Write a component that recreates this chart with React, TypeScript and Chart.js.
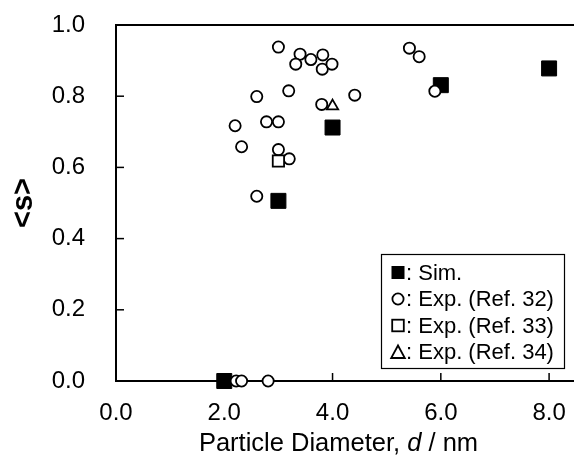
import React, { useEffect, useRef } from 'react';
import { Chart, registerables } from 'chart.js';

Chart.register(...registerables);

const FONT = "'Liberation Sans', Arial, sans-serif";

const simX = [2.0, 3.0, 4.0, 6.0, 8.0];
const simY = [0.0, 0.506, 0.712, 0.831, 0.878];

const ref32X = [3.0, 3.4, 3.32, 3.6, 3.82, 3.81, 3.99, 3.19, 2.6, 3.8, 4.41, 2.2, 2.78, 3.0, 2.32, 3.0, 3.2, 2.6, 5.42, 5.6, 5.89, 2.22, 2.32, 2.81];
const ref32Y = [0.938, 0.918, 0.89, 0.903, 0.916, 0.876, 0.89, 0.815, 0.799, 0.777, 0.803, 0.717, 0.728, 0.728, 0.658, 0.65, 0.624, 0.519, 0.935, 0.911, 0.814, 0.0, 0.0, 0.0];

const ref33X = [3.0];
const ref33Y = [0.618];

const ref34X = [4.0];
const ref34Y = [0.772];

const xTicks = [0, 2, 4, 6, 8];
const yTicks = [0, 0.2, 0.4, 0.6, 0.8, 1.0];

const legendLabels = [': Sim.', ': Exp. (Ref. 32)', ': Exp. (Ref. 33)', ': Exp. (Ref. 34)'];
const xTitleParts = ['Particle Diameter, ', 'd', ' / nm'];
const yTitle = '<s>';

const toPts = (xs: number[], ys: number[]) => xs.map((x, i) => ({ x, y: ys[i] }));

const noPadding = () => ({ left: 0, top: 0, right: 0, bottom: 0 });

const decorPlugin = {
  id: 'decor',
  beforeDatasetsDraw(chart: any) {
    const { ctx, chartArea, scales } = chart;
    ctx.save();
    ctx.strokeStyle = '#000';
    ctx.lineWidth = 2;
    ctx.beginPath();
    ctx.moveTo(chartArea.left - 1, chartArea.top);
    ctx.lineTo(chartArea.right, chartArea.top);
    ctx.stroke();
    ctx.lineWidth = 1.5;
    yTicks.forEach((v) => {
      if (v === 0 || v === 1) return;
      const y = scales.y.getPixelForValue(v);
      ctx.beginPath();
      ctx.moveTo(chartArea.left, y);
      ctx.lineTo(chartArea.left + 8, y);
      ctx.stroke();
    });
    xTicks.forEach((v) => {
      if (v === 0) return;
      const x = scales.x.getPixelForValue(v);
      ctx.beginPath();
      ctx.moveTo(x, chartArea.bottom);
      ctx.lineTo(x, chartArea.bottom - 8);
      ctx.stroke();
    });
    ctx.restore();
  },
  afterDraw(chart: any) {
    const { ctx } = chart;
    ctx.save();
    const size = 25.5;
    const fonts = [`${size}px ${FONT}`, `italic ${size}px ${FONT}`, `${size}px ${FONT}`];
    const widths = xTitleParts.map((t, i) => {
      ctx.font = fonts[i];
      return ctx.measureText(t).width;
    });
    const total = widths.reduce((a, b) => a + b, 0);
    let x = 338.5 - total / 2;
    ctx.fillStyle = '#000';
    ctx.textBaseline = 'alphabetic';
    ctx.textAlign = 'left';
    xTitleParts.forEach((t, i) => {
      ctx.font = fonts[i];
      ctx.fillText(t, x, 451);
      x += widths[i];
    });

    const bx = 381, by = 254, bw = 183, bh = 114;
    ctx.fillStyle = '#fff';
    ctx.fillRect(bx, by, bw, bh);
    ctx.strokeStyle = '#000';
    ctx.lineWidth = 1.2;
    ctx.strokeRect(bx + 0.5, by + 0.5, bw, bh);
    const rows = [272.5, 299, 325.5, 352];
    const mx = 398;
    ctx.lineWidth = 1.8;
    rows.forEach((ry, i) => {
      ctx.beginPath();
      if (i === 0) {
        ctx.fillStyle = '#000';
        ctx.fillRect(mx - 6.5, ry - 6.5, 13, 13);
      } else if (i === 1) {
        ctx.arc(mx, ry, 5.6, 0, Math.PI * 2);
        ctx.stroke();
      } else if (i === 2) {
        ctx.strokeRect(mx - 5.8, ry - 5.8, 11.6, 11.6);
      } else {
        ctx.moveTo(mx, ry - 6.5);
        ctx.lineTo(mx - 6.8, ry + 6);
        ctx.lineTo(mx + 6.8, ry + 6);
        ctx.closePath();
        ctx.stroke();
      }
      ctx.fillStyle = '#000';
      ctx.font = `22px ${FONT}`;
      ctx.textBaseline = 'middle';
      ctx.fillText(legendLabels[i], 406, ry + 1);
    });
    ctx.restore();
  },
};

export default function App() {
  const ref = useRef<HTMLCanvasElement>(null);
  useEffect(() => {
    const chart = new Chart(ref.current as HTMLCanvasElement, {
      type: 'scatter',
      data: {
        datasets: [
          {
            label: legendLabels[0],
            data: toPts(simX, simY),
            pointStyle: 'rect',
            pointRadius: 10.6,
            pointHoverRadius: 10.6,
            backgroundColor: '#000',
            borderColor: '#000',
            borderWidth: 1,
            order: 4,
            clip: false,
          } as any,
          {
            label: legendLabels[1],
            data: toPts(ref32X, ref32Y),
            pointStyle: 'circle',
            pointRadius: 5.6,
            pointHoverRadius: 5.6,
            backgroundColor: '#fff',
            borderColor: '#000',
            borderWidth: 1.8,
            order: 3,
            clip: false,
          },
          {
            label: legendLabels[2],
            data: toPts(ref33X, ref33Y),
            pointStyle: 'rect',
            pointRadius: 8,
            pointHoverRadius: 8,
            backgroundColor: '#fff',
            borderColor: '#000',
            borderWidth: 1.8,
            order: 2,
            clip: false,
          },
          {
            label: legendLabels[3],
            data: toPts(ref34X, ref34Y),
            pointStyle: 'triangle',
            pointRadius: 6.5,
            pointHoverRadius: 6.5,
            backgroundColor: '#fff',
            borderColor: '#000',
            borderWidth: 1.8,
            order: 1,
            clip: false,
          },
        ],
      },
      options: {
        animation: false,
        responsive: false,
        maintainAspectRatio: false,
        layout: { autoPadding: false, padding: { top: 25, right: 0, left: 0, bottom: 0 } },
        plugins: { legend: { display: false }, tooltip: { enabled: false } },
        scales: {
          x: {
            type: 'linear',
            min: 0,
            max: 8.46,
            afterBuildTicks: (s: any) => {
              s.ticks = xTicks.map((v) => ({ value: v }));
            },
            afterFit: (s: any) => {
              s.height = 76;
              s.paddingRight = 0;
              s.paddingLeft = 0;
              s.getPadding = noPadding;
            },
            grid: { display: true, drawOnChartArea: false, drawTicks: true, tickLength: 18, color: 'rgba(0,0,0,0)' },
            border: { display: true, color: '#000', width: 2 },
            ticks: {
              padding: 0,
              color: '#000',
              font: { family: FONT, size: 24 },
              maxRotation: 0,
              autoSkip: false,
              callback: (v: any) => Number(v).toFixed(1),
            },
          },
          y: {
            type: 'linear',
            min: 0,
            max: 1,
            afterBuildTicks: (s: any) => {
              s.ticks = yTicks.map((v) => ({ value: v }));
            },
            afterFit: (s: any) => {
              s.width = 116;
              s.paddingTop = 0;
              s.paddingBottom = 0;
              s.getPadding = noPadding;
            },
            grid: { display: true, drawOnChartArea: false, drawTicks: true, tickLength: 31, color: 'rgba(0,0,0,0)' },
            border: { display: true, color: '#000', width: 2 },
            ticks: {
              padding: 0,
              color: '#000',
              font: { family: FONT, size: 24 },
              autoSkip: false,
              callback: (v: any) => Number(v).toFixed(1),
            },
            title: {
              display: true,
              text: yTitle,
              color: '#000',
              font: { family: FONT, size: 29, weight: 'bold' },
              padding: { top: 7, bottom: 0 },
            },
          },
        },
      },
      plugins: [decorPlugin],
    });
    return () => chart.destroy();
  }, []);
  return (
    <div style={{ position: 'fixed', left: 0, top: 0, width: 574, height: 457, background: '#fff' }}>
      <canvas ref={ref} width={574} height={457} style={{ width: 574, height: 457, display: 'block' }} />
    </div>
  );
}
